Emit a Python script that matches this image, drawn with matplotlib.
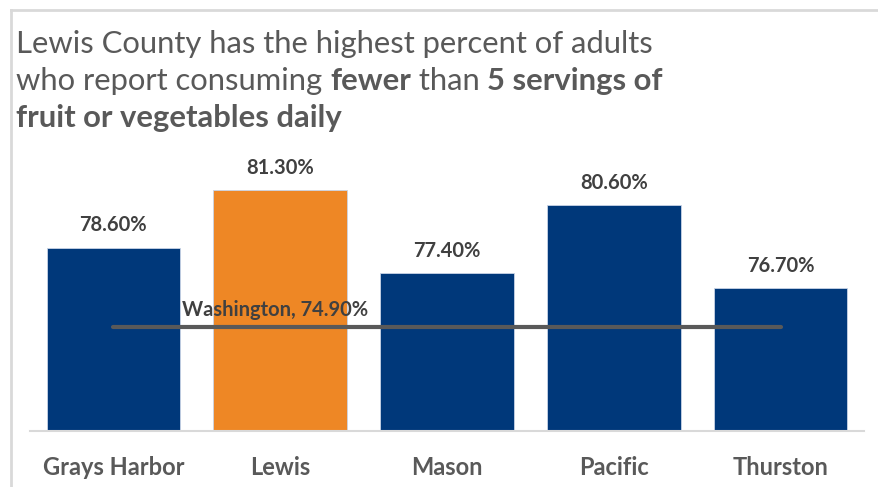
import matplotlib.pyplot as plt
import numpy as np

plt.rcParams['font.family'] = ['Lato', 'DejaVu Sans']

counties = ['Grays Harbor', 'Lewis', 'Mason', 'Pacific', 'Thurston']
pct = [78.6, 81.3, 77.4, 80.6, 76.7]
state_name = 'Washington'
state_pct = 74.9
highlight = 'Lewis'

navy = '#00387A'
orange = '#EE8725'
gray = '#595959'
dark = '#404040'

fig = plt.figure(figsize=(8.79, 4.87), dpi=100)
ax = fig.add_axes([0.034, 0.115, 0.949, 0.553])

x = np.arange(len(counties))
colors = [orange if c == highlight else navy for c in counties]
rects = ax.bar(x, pct, width=0.8, color=colors, edgecolor='#c9d4e6',
               linewidth=0.6, zorder=2)

for r, v in zip(rects, pct):
    ax.annotate(f'{v:.2f}%', (r.get_x() + r.get_width() / 2, v),
                xytext=(0, 9), textcoords='offset points',
                ha='center', va='bottom', fontsize=14.5,
                fontweight='bold', color=dark)

# state average across the county centres
ax.plot([x[0], x[-1]], [state_pct, state_pct], color=gray, lw=3,
        solid_capstyle='round', zorder=3)
ax.text(x[0] + 0.97, state_pct + 0.3, f'{state_name}, {state_pct:.2f}%',
        ha='center', va='bottom', fontsize=14.5, fontweight='bold',
        color=dark, zorder=4)

ax.set_xlim(-0.5, len(counties) - 0.5)
ax.set_ylim(70, 82.64)
ax.set_yticks([])
ax.set_xticks(x)
ax.set_xticklabels(counties, fontsize=17, fontweight='bold', color=gray)
ax.tick_params(axis='x', length=0, pad=18)
for s in ['top', 'right', 'left']:
    ax.spines[s].set_visible(False)
ax.spines['bottom'].set_color('#d9d9d9')
ax.spines['bottom'].set_linewidth(1.5)

# light frame around the chart area
fig.add_artist(plt.Line2D([0.012, 1.0], [0.98, 0.98], color='#d9d9d9',
                          lw=2, transform=fig.transFigure))
fig.add_artist(plt.Line2D([0.012, 0.012], [0.0, 0.98], color='#d9d9d9',
                          lw=2, transform=fig.transFigure))

# title with mixed weights, pieces laid out left to right
title_lines = [
    [('Lewis County has the highest percent of adults', 'normal')],
    [('who report consuming ', 'normal'), ('fewer', 'bold'),
     (' than ', 'normal'), ('5 servings of', 'bold')],
    [('fruit or vegetables daily', 'bold')],
]
renderer = fig.canvas.get_renderer()
y0 = 0.892
for i, line in enumerate(title_lines):
    xpos = 16 / 879
    ypos = y0 - i * 0.076
    for txt, w in line:
        t = fig.text(xpos, ypos, txt, fontsize=22.3, fontweight=w, color=gray,
                     ha='left', va='baseline')
        bb = t.get_window_extent(renderer)
        xpos += bb.width / fig.bbox.width

fig.savefig('out.png', dpi=100)
